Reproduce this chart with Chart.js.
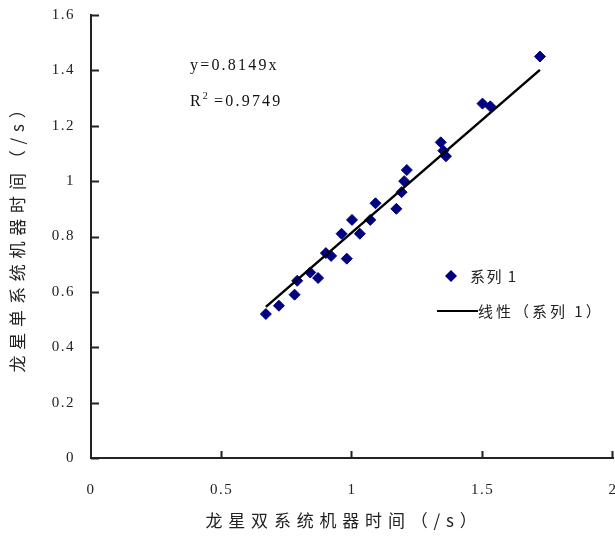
<!DOCTYPE html>
<html>
<head>
<meta charset="utf-8">
<style>
  html, body { margin: 0; padding: 0; background: #fff; overflow: hidden; }
</style>
</head>
<body>
<canvas id="scatterChart" width="615" height="536"></canvas>

<script src="https://cdn.jsdelivr.net/npm/chart.js"></script>
<script>
// readings: double-system time (x) vs single-system time (y), seconds
const dualTime = [0.67, 0.72, 0.78, 0.79, 0.84, 0.87, 0.90, 0.92, 0.98, 0.96, 1.00, 1.03,
                  1.07, 1.09, 1.17, 1.19, 1.20, 1.21, 1.34, 1.35, 1.36, 1.50, 1.53, 1.72];
const singleTime = [0.52, 0.55, 0.59, 0.64, 0.67, 0.65, 0.74, 0.73, 0.72, 0.81, 0.86, 0.81,
                    0.86, 0.92, 0.90, 0.96, 1.00, 1.04, 1.14, 1.11, 1.09, 1.28, 1.27, 1.45];
const slope = 0.8149;
const rSquared = '0.9749';
const xTicks = [0, 0.5, 1, 1.5, 2];
const yTicks = [0, 0.2, 0.4, 0.6, 0.8, 1, 1.2, 1.4, 1.6];

const seriesName = '系列 1';
const trendName = '线性（系列 1）';
const xTitle = '龙星双系统机器时间（/s）';
const yTitle = '龙星单系统机器时间（/s）';

const points = dualTime.map((x, i) => ({ x: x, y: singleTime[i] }));
const xMin = Math.min(...dualTime);
const xMax = Math.max(...dualTime);
const trend = [{ x: xMin, y: slope * xMin }, { x: xMax, y: slope * xMax }];

const tickFont = { family: '"Liberation Serif", "Times New Roman", serif', size: 15 };

const decor = {
  id: 'decor',
  beforeDraw(chart) {
    chart.ctx.letterSpacing = '1.5px';
  },
  afterDraw(chart) {
    const ctx = chart.ctx;
    const area = chart.chartArea;
    const xs = chart.scales.x, ys = chart.scales.y;
    ctx.save();

    // inward tick marks
    ctx.strokeStyle = '#222';
    ctx.lineWidth = 2;
    ctx.beginPath();
    ys.ticks.forEach(t => {
      const py = Math.round(ys.getPixelForValue(t.value)) + 0.5;
      ctx.moveTo(area.left, py);
      ctx.lineTo(area.left + 8, py);
    });
    xs.ticks.forEach(t => {
      if (t.value === 0) return;
      const px = Math.round(xs.getPixelForValue(t.value)) - 0.5;
      ctx.moveTo(px, area.bottom);
      ctx.lineTo(px, area.bottom - 7);
    });
    ctx.stroke();

    // axis titles
    ctx.fillStyle = '#222';
    ctx.font = '17px "Noto Sans CJK SC"';
    ctx.letterSpacing = '5.8px';
    ctx.textAlign = 'center';
    ctx.textBaseline = 'middle';
    ctx.fillText(xTitle, 344, 521);
    ctx.save();
    ctx.translate(18, 234);
    ctx.rotate(-Math.PI / 2);
    ctx.fillText(yTitle, 0, 0);
    ctx.restore();

    // trendline equation
    ctx.textAlign = 'left';
    ctx.letterSpacing = '2.2px';
    ctx.font = '16px "Liberation Serif", serif';
    ctx.fillStyle = '#111';
    ctx.fillText('y=' + slope + 'x', 190, 66);
    ctx.fillText('R', 190, 102);
    let rx = 190 + ctx.measureText('R').width;
    ctx.font = '10px "Liberation Serif", serif';
    ctx.fillText('2', rx, 96);
    rx += ctx.measureText('2').width + 4;
    ctx.font = '16px "Liberation Serif", serif';
    ctx.fillText('=' + rSquared, rx, 102);

    // legend
    const lx = 451, ly = 276;
    ctx.fillStyle = '#000080';
    ctx.beginPath();
    ctx.moveTo(lx, ly - 6);
    ctx.lineTo(lx + 6, ly);
    ctx.lineTo(lx, ly + 6);
    ctx.lineTo(lx - 6, ly);
    ctx.closePath();
    ctx.fill();
    ctx.strokeStyle = '#000';
    ctx.lineWidth = 2;
    ctx.beginPath();
    ctx.moveTo(437, 311);
    ctx.lineTo(478, 311);
    ctx.stroke();
    ctx.fillStyle = '#222';
    ctx.font = '15px "Noto Sans CJK SC"';
    ctx.letterSpacing = '1.5px';
    ctx.fillText(seriesName, 470, ly);
    ctx.letterSpacing = '3px';
    ctx.fillText(trendName, 478, 311);

    ctx.restore();
  }
};

new Chart(document.getElementById('scatterChart').getContext('2d'), {
  type: 'scatter',
  data: {
    datasets: [{
      label: seriesName,
      data: points,
      pointStyle: 'rectRot',
      pointRadius: 5.5,
      pointHoverRadius: 5.5,
      backgroundColor: '#000080',
      borderColor: '#000080',
      borderWidth: 1,
      order: 1
    }, {
      label: trendName,
      type: 'line',
      data: trend,
      borderColor: '#000',
      borderWidth: 2.5,
      pointRadius: 0,
      fill: false,
      order: 0
    }]
  },
  options: {
    responsive: false,
    animation: false,
    events: [],
    layout: { padding: { top: 15, right: 2, left: 0, bottom: 0 }, autoPadding: false },
    plugins: { legend: { display: false }, tooltip: { enabled: false } },
    scales: {
      x: {
        type: 'linear',
        min: 0,
        max: 2,
        afterBuildTicks: s => { s.ticks = xTicks.map(v => ({ value: v })); },
        afterFit: s => { s.height = 78; s.paddingLeft = 0; s.paddingRight = 0; },
        ticks: { font: tickFont, color: '#222', padding: 23, callback: v => String(v) },
        grid: { display: false, drawTicks: false },
        border: { display: true, color: '#222', width: 2 }
      },
      y: {
        type: 'linear',
        min: 0,
        max: 1.6,
        afterBuildTicks: s => { s.ticks = yTicks.map(v => ({ value: v })); },
        afterFit: s => { s.width = 91; s.paddingTop = 0; s.paddingBottom = 0; },
        ticks: { font: tickFont, color: '#222', padding: 16, callback: v => String(v) },
        grid: { display: false, drawTicks: false },
        border: { display: true, color: '#222', width: 2 }
      }
    }
  },
  plugins: [decor]
});
</script>
</body>
</html>
